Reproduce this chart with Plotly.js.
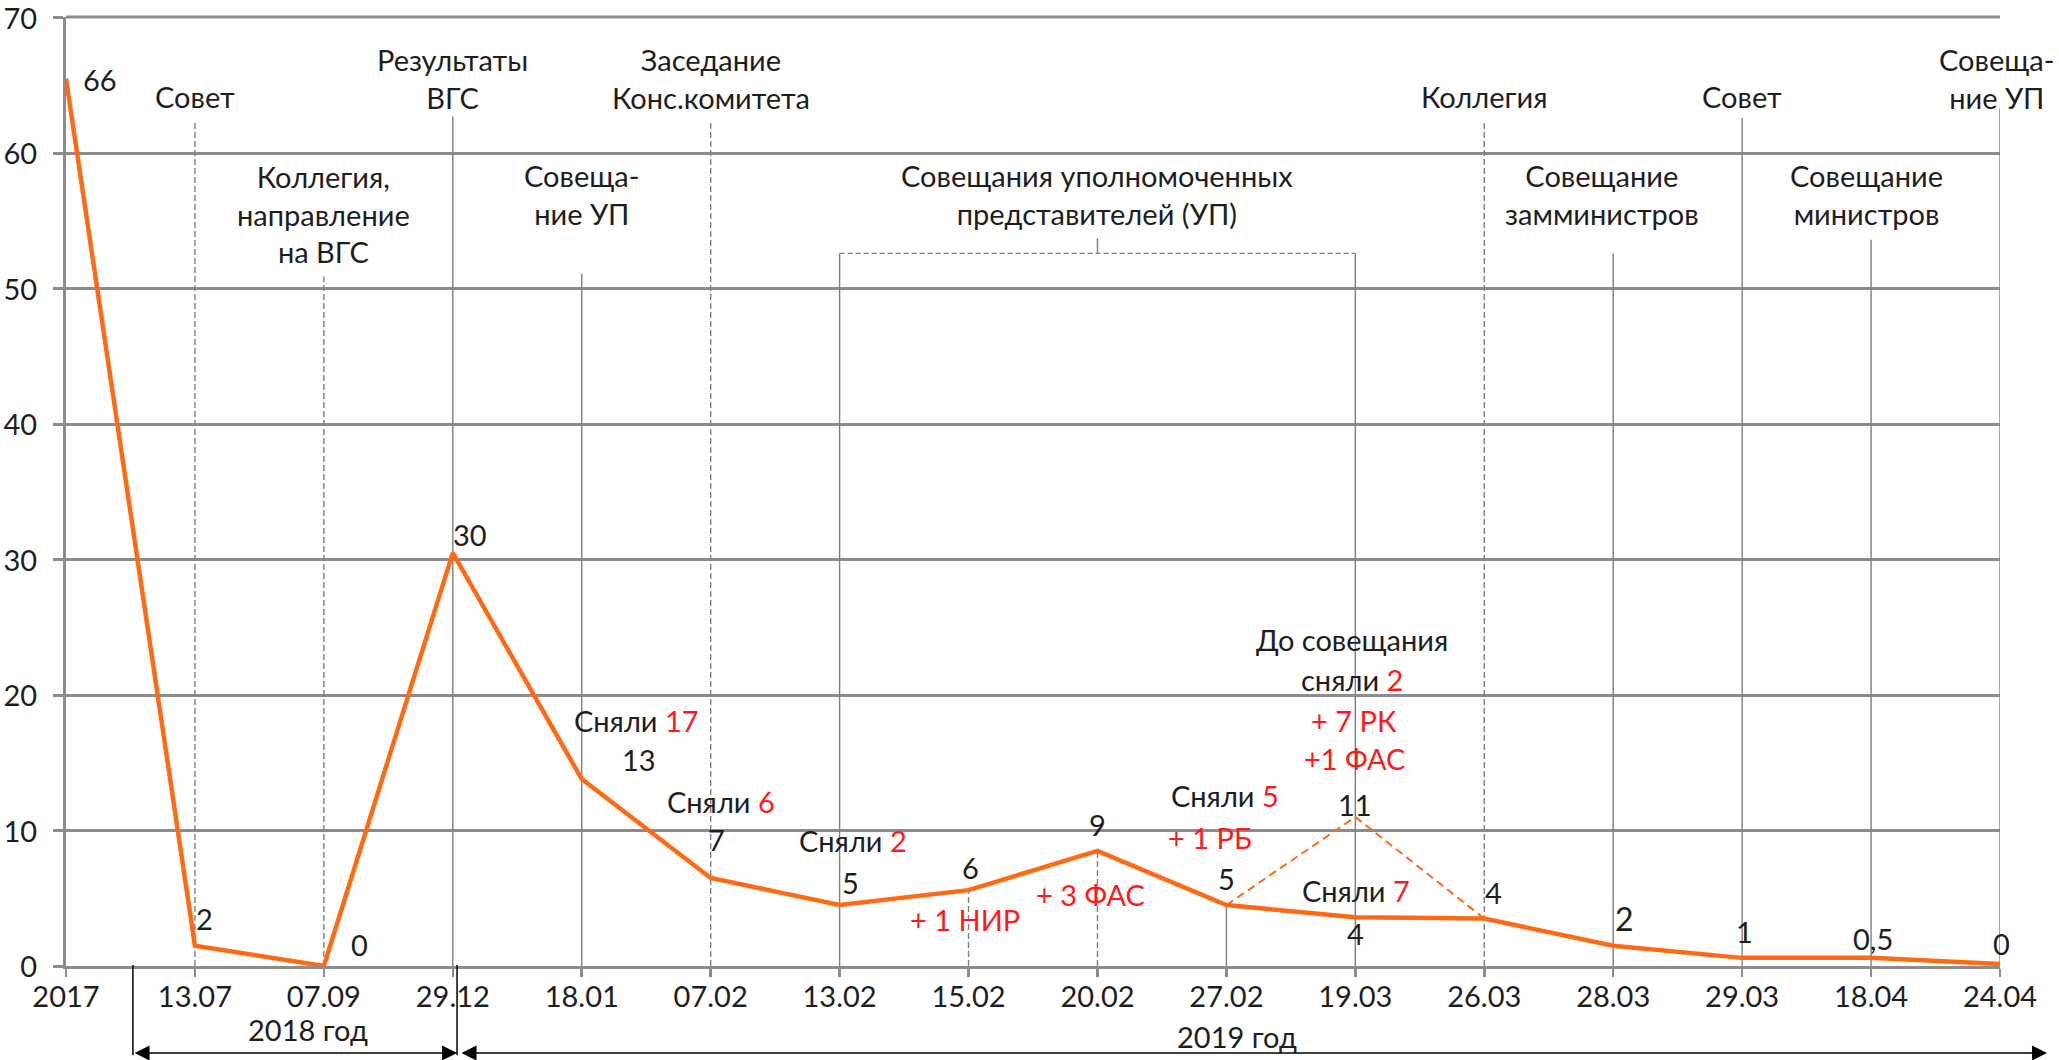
<!DOCTYPE html>
<html><head><meta charset="utf-8">
<script src="https://cdn.plot.ly/plotly-3.0.1.min.js"></script>
<style>html,body{margin:0;padding:0;background:#fff}#chart{width:2059px;height:1060px}</style>
</head><body><div id="chart"></div>
<script>
// ---------- DATA ----------
const categories = ['2017','13.07','07.09','29.12','18.01','07.02','13.02','15.02','20.02','27.02','19.03','26.03','28.03','29.03','18.04','24.04'];
const remaining  = [65.5, 1.5, 0, 30.5, 13.8, 6.5, 4.5, 5.6, 8.5, 4.5, 3.6, 3.5, 1.5, 0.6, 0.6, 0.15];
const pointLabels = ['66','2','0','30','13','7','5','6','9','5','4','4','2','1','0,5','0'];
const altCategories = ['27.02','19.03','26.03'];
const altValues = [4.5, 11, 3.5];
const altLabels = ['', '11', ''];
const yTickValues = [0,10,20,30,40,50,60,70];
const eventCats  = ['13.07','29.12','07.02','26.03','29.03','24.04','07.09','18.01','20.02','28.03','18.04'];
const eventTexts = ['Совет','Результаты<br>ВГС','Заседание<br>Конс.комитета','Коллегия','Совет','Совеща-<br>ние УП',
                    'Коллегия,<br>направление<br>на ВГС','Совеща-<br>ние УП','Совещания уполномоченных<br>представителей (УП)',
                    'Совещание<br>замминистров','Совещание<br>министров'];
const noteCats  = ['18.01','07.02','13.02','15.02','20.02','27.02','27.02','19.03','19.03','19.03','19.03','19.03'];
const noteBlack = ['Сняли ','Сняли ','Сняли ','','','Сняли ','','До совещания','сняли ','','','Сняли '];
const noteRed   = ['17','6','2','+ 1 НИР','+ 3 ФАС','5','+ 1 РБ','','2','+ 7 РК','+1 ФАС','7'];
const periodLabels = ['2018 год','2019 год'];

// ---------- STYLE / LAYOUT ----------
const FONT = 'Lato, "Open Sans", sans-serif';
const FS = 29;
const ORANGE = '#ff6a13', RED = '#ff1a1a', GRID = '#8c8c8c', VLINE = '#7f7f7f', TXT = '#1e1e1e';
const idx = c => categories.indexOf(c);

const traces = [
  {x: categories, y: remaining, type: 'scatter', mode: 'lines', cliponaxis: false,
   line: {color: ORANGE, width: 4.5}, hoverinfo: 'skip'},
  {x: altCategories, y: altValues, type: 'scatter', mode: 'lines', cliponaxis: false,
   line: {color: ORANGE, width: 2, dash: '8px,5px'}, hoverinfo: 'skip'}
];

const annotations = [];
function txt(o) {
  annotations.push(Object.assign({showarrow: false, xref: 'x', yref: 'y', xanchor: 'center',
    font: {family: FONT, size: FS, color: TXT}}, o));
}

// point value labels: pixel offsets from each point
const labelShift = [[34,-1],[10,27],[36,22],[17,18],[57,20],[6,38],[11,23],[2,23],[0,26],[0,27],[0,-16],[9,26],[11,27],[2,26],[2,19],[1,20]];
pointLabels.forEach((t, i) => {
  txt({x: i, y: remaining[i], text: t, xshift: labelShift[i][0], yshift: labelShift[i][1],
       font: {family: FONT, size: i === 12 ? 32 : FS, color: TXT}});
});
altLabels.forEach((t, i) => { if (t) txt({x: idx(altCategories[i]), y: altValues[i], text: t, yshift: 12}); });

// event labels (y in value units, chosen to sit above guide lines)
const eventPos = [[64.17,0],[65.5,0],[65.5,0],[64.17,0],[64.17,0],[65.5,-3],
                  [55.54,0],[56.94,0],[56.94,0],[56.94,-11],[56.94,-5]];
eventTexts.forEach((t, i) => {
  txt({x: idx(eventCats[i]), y: eventPos[i][0], text: t, xshift: eventPos[i][1], yanchor: 'middle'});
});

// notes (black + red), offsets relative to the points
const noteShift = [[55,59],[10,76],[13,65],[-4,-29],[-7,-44],[-1,110],[-16,68],[-3,177],[-3,137],[-1,96],[-1,58],[1,27]];
noteCats.forEach((c, i) => {
  const k = idx(c);
  const useAlt = (c === '19.03' && i < 11);
  const baseY = useAlt ? altValues[altCategories.indexOf(c)] : remaining[k];
  const t = (noteBlack[i] ? noteBlack[i] : '') + (noteRed[i] ? '<span style="color:' + RED + '">' + noteRed[i] + '</span>' : '');
  txt({x: k, y: baseY, text: t, xshift: noteShift[i][0], yshift: noteShift[i][1]});
});

// period labels under the axis (paper coords)
annotations.push({xref: 'paper', yref: 'paper', x: 0.1251, y: -0.0674, text: periodLabels[0], showarrow: false,
  xanchor: 'center', yanchor: 'middle', font: {family: FONT, size: FS, color: TXT}});
annotations.push({xref: 'paper', yref: 'paper', x: 0.6055, y: -0.0738, text: periodLabels[1], showarrow: false,
  xanchor: 'center', yanchor: 'middle', font: {family: FONT, size: FS, color: TXT}});
// double arrows
annotations.push({xref: 'paper', yref: 'paper', x: 0.2022, y: -0.0917, ax: -324, ay: 0, text: '',
  showarrow: true, arrowhead: 2, arrowside: 'end+start', arrowsize: 2, arrowwidth: 1.5, arrowcolor: '#000'});
annotations.push({xref: 'paper', yref: 'paper', x: 1.0243, y: -0.0917, ax: -1587, ay: 0, text: '',
  showarrow: true, arrowhead: 2, arrowside: 'end+start', arrowsize: 2, arrowwidth: 1.5, arrowcolor: '#000'});

// vertical guide lines
const guides = [
  ['13.07', 62.3, '6px,3px'], ['07.09', 50.9, '6px,3px'], ['29.12', 62.7, 'solid'], ['18.01', 51.1, 'solid'],
  ['07.02', 62.3, '6px,3px'], ['13.02', 52.6, 'solid'], ['15.02', null, '6px,3px'], ['20.02', null, '6px,3px'],
  ['27.02', null, 'solid'], ['19.03', 52.6, 'solid'], ['26.03', 62.3, '6px,3px'], ['28.03', 52.6, 'solid'],
  ['29.03', 62.6, 'solid'], ['18.04', 53.6, 'solid'], ['24.04', 63.3, 'solid']
];
const shapes = guides.map(g => {
  const k = idx(g[0]);
  return {type: 'line', xref: 'x', yref: 'y', x0: k, x1: k, y0: 0, y1: g[1] === null ? remaining[k] : g[1],
          layer: 'between', line: {color: VLINE, width: 1.4, dash: g[2]}};
});
// bracket over the series of meetings
shapes.push({type: 'line', xref: 'x', yref: 'y', x0: idx('13.02'), x1: idx('19.03'), y0: 52.6, y1: 52.6,
             layer: 'between', line: {color: VLINE, width: 1.4, dash: '5px,3px'}});
shapes.push({type: 'line', xref: 'x', yref: 'y', x0: idx('20.02'), x1: idx('20.02'), y0: 52.6, y1: 53.7,
             layer: 'between', line: {color: VLINE, width: 1.4}});
// top gridline (edge of range)
shapes.push({type: 'line', xref: 'paper', yref: 'paper', x0: 0, x1: 1, y0: 1, y1: 1,
             layer: 'between', line: {color: GRID, width: 3}});
// year separators below axis
[0.0346, 0.2022].forEach(px => shapes.push({type: 'line', xref: 'paper', yref: 'paper', x0: px, x1: px,
  y0: 0.001, y1: -0.094, line: {color: '#000', width: 1.5}}));

const layout = {
  width: 2059, height: 1060,
  margin: {l: 66, r: 59, t: 17, b: 94, pad: 0},
  paper_bgcolor: '#fff', plot_bgcolor: '#fff',
  showlegend: false,
  font: {family: FONT, size: FS, color: TXT},
  xaxis: {type: 'category', range: [0, 15], showgrid: false, zeroline: false,
          showline: true, linecolor: GRID, linewidth: 3,
          ticks: 'outside', ticklen: 8, tickwidth: 2.5, tickcolor: GRID, ticklabelstandoff: -5,
          ticklabeloverflow: 'allow',
          tickfont: {family: FONT, size: FS, color: TXT}, fixedrange: true},
  yaxis: {range: [0, 70.05], tickvals: yTickValues, showgrid: true, gridcolor: GRID, gridwidth: 3,
          zeroline: false, showline: true, linecolor: GRID, linewidth: 3,
          ticks: 'outside', ticklen: 10, tickwidth: 3, tickcolor: GRID, ticklabelstandoff: 10, ticklabelshift: 1,
          ticklabeloverflow: 'allow',
          tickfont: {family: FONT, size: FS, color: TXT}, fixedrange: true},
  annotations: annotations,
  shapes: shapes
};

Plotly.newPlot('chart', traces, layout, {staticPlot: true, displayModeBar: false});
</script>
</body></html>
